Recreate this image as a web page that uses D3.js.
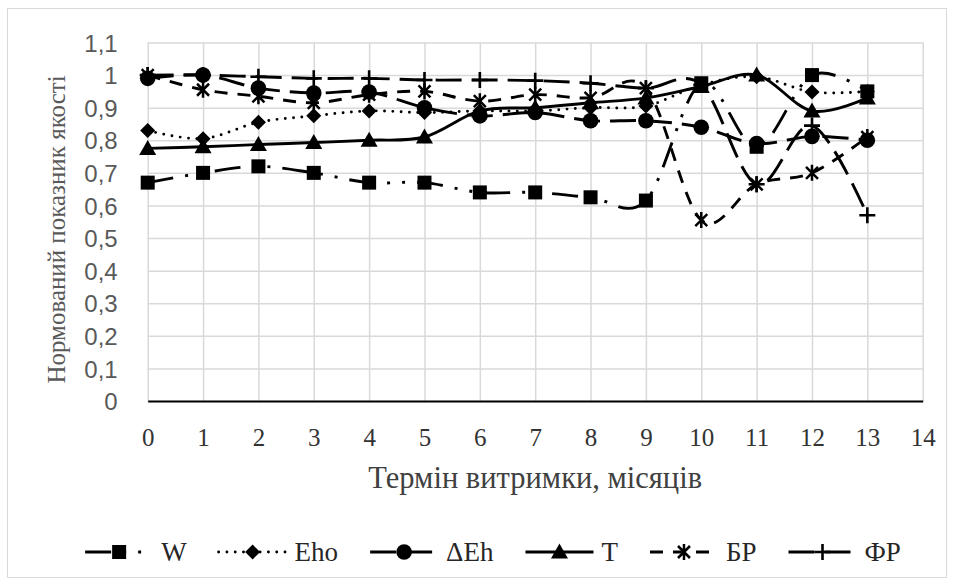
<!DOCTYPE html>
<html><head><meta charset="utf-8">
<script src="https://cdn.jsdelivr.net/npm/d3@7/dist/d3.min.js"></script>
<style>
body{margin:0;background:#fff} svg{display:block}
.serif{font-family:"Liberation Serif","DejaVu Serif","Times New Roman",serif}
.ylab{font-family:"Liberation Sans Narrow","Arial Narrow","Liberation Sans",sans-serif}
</style>
</head><body>
<svg id="c" width="955" height="584"></svg>
<script>
// ---- data ----
const months = [0,1,2,3,4,5,6,7,8,9,10,11,12,13];
const xTickValues = [0,1,2,3,4,5,6,7,8,9,10,11,12,13,14];
const yTickValues = [0,0.1,0.2,0.3,0.4,0.5,0.6,0.7,0.8,0.9,1.0,1.1];
const yTickLabels = ["0","0,1","0,2","0,3","0,4","0,5","0,6","0,7","0,8","0,9","1","1,1"];
const seriesNames = ["W","Eho","ΔEh","T","БР","ФР"];
const W   = [0.67,0.70,0.72,0.70,0.67,0.67,0.64,0.64,0.625,0.615,0.975,0.78,1.0,0.95];
const Eho = [0.83,0.805,0.855,0.875,0.89,0.885,0.89,0.89,0.90,0.905,0.97,0.995,0.948,0.95];
const dEh = [0.99,1.0,0.96,0.945,0.948,0.90,0.875,0.885,0.86,0.86,0.84,0.79,0.812,0.80];
const T   = [0.775,0.78,0.787,0.793,0.80,0.81,0.89,0.90,0.915,0.93,0.965,1.0,0.89,0.93];
const BR  = [1.0,0.955,0.935,0.915,0.94,0.95,0.92,0.94,0.93,0.96,0.555,0.665,0.70,0.81];
const FR  = [1.0,1.0,0.995,0.99,0.99,0.985,0.985,0.983,0.975,0.96,0.97,0.665,0.845,0.57];
const xTitle = "Термін витримки, місяців";
const yTitle = "Нормований показник якості";

// ---- styles ----
const seriesValues = [W,Eho,dEh,T,BR,FR];
const styles = [
  {dash:"26,12,3,12,3,12", cap:"butt", marker:"square"},
  {dash:"0,8.3", cap:"round", marker:"diamond"},
  {dash:"26,10", cap:"butt", marker:"circle"},
  {dash:null, cap:"butt", marker:"triangle"},
  {dash:"13,10", cap:"butt", marker:"star"},
  {dash:"26,10", cap:"butt", marker:"plus"}
];

const svg = d3.select("#c");
const x = d3.scaleLinear().domain([0,14]).range([147.7,922.7]);
const y = d3.scaleLinear().domain([0,1.1]).range([401,42.5]);

svg.append("rect").attr("x",7.5).attr("y",8.5).attr("width",939).attr("height",569)
  .attr("fill","#fff").attr("stroke","#d9d9d9").attr("stroke-width",1);

// gridlines
const gx = svg.append("g").attr("transform",`translate(0,${y(0)})`)
  .call(d3.axisBottom(x).tickValues(xTickValues).tickSize(-(y(0)-y(1.1))).tickFormat(""));
gx.select(".domain").remove();
gx.selectAll("line").attr("stroke","#d9d9d9").attr("stroke-width",1.5);
const gy = svg.append("g").attr("transform",`translate(${x(0)},0)`)
  .call(d3.axisLeft(y).tickValues(yTickValues).tickSize(-(x(14)-x(0))).tickFormat(""));
gy.select(".domain").remove();
gy.selectAll("line").attr("stroke","#d9d9d9").attr("stroke-width",1.5);

// y labels
const ya = svg.append("g").attr("transform",`translate(${x(0)},0)`)
  .call(d3.axisLeft(y).tickValues(yTickValues).tickSize(0).tickPadding(30).tickFormat((d,i)=>yTickLabels[i]));
ya.attr("font-family",null).attr("font-size",null);
ya.select(".domain").remove();
ya.selectAll("text").attr("class","ylab").style("font-size","24px").attr("fill","#595959").attr("dy","0.36em");

// x axis
const xa = svg.append("g").attr("transform",`translate(0,${y(0)})`)
  .call(d3.axisBottom(x).tickValues(xTickValues).tickSize(0).tickSizeOuter(0).tickPadding(27));
xa.attr("font-family",null).attr("font-size",null);
xa.select(".domain").attr("stroke","#000").attr("stroke-width",2);
xa.selectAll("text").attr("class","serif").style("font-size","25px").attr("fill","#333");

// titles
svg.append("text").attr("class","serif").attr("x",(x(0)+x(14))/2).attr("y",488).attr("text-anchor","middle")
  .style("font-size","30.5px").attr("fill","#404040").text(xTitle);
svg.append("text").attr("class","serif").attr("transform",`translate(65,229.5) rotate(-90)`).attr("text-anchor","middle")
  .style("font-size","25px").attr("fill","#595959").text(yTitle);

// markers
function drawMarker(g, type, cx, cy){
  const m = g.append("g").attr("transform",`translate(${cx},${cy})`);
  if(type==="square") m.append("rect").attr("x",-7).attr("y",-7).attr("width",14).attr("height",14).attr("fill","#000");
  else if(type==="diamond") m.append("path").attr("d","M0,-7.5L7.5,0L0,7.5L-7.5,0Z").attr("fill","#000");
  else if(type==="circle") m.append("circle").attr("r",7.8).attr("fill","#000");
  else if(type==="triangle") m.append("path").attr("d","M0,-8.5L8.5,6.5L-8.5,6.5Z").attr("fill","#000");
  else if(type==="star") m.append("path").attr("d","M-6,-6L6,6M6,-6L-6,6M0,-8V8").attr("stroke","#000").attr("stroke-width",2.5).attr("fill","none");
  else if(type==="plus") m.append("path").attr("d","M-8,0H8M0,-8V8").attr("stroke","#000").attr("stroke-width",2.6).attr("fill","none");
}

const line = d3.line().x((d,i)=>x(months[i])).y(d=>y(d)).curve(d3.curveCatmullRom.alpha(0));
seriesValues.forEach((vals,si)=>{
  const st = styles[si];
  const g = svg.append("g");
  const p = g.append("path").attr("d",line(vals)).attr("fill","none").attr("stroke","#000")
    .attr("stroke-width",2.9).attr("stroke-linecap",st.cap).attr("stroke-linejoin","round");
  if(st.dash) p.attr("stroke-dasharray",st.dash);
  vals.forEach((v,i)=>drawMarker(g, st.marker, x(months[i]), y(v)));
});

// legend
const lg = svg.append("g");
const sampleLen = 68, gapText = 8, spacing = 32, ly = 552;
const items = [];
seriesNames.forEach((name,si)=>{
  const st = styles[si];
  const g = lg.append("g");
  const p = g.append("line").attr("x1",0).attr("x2",sampleLen).attr("y1",0).attr("y2",0)
    .attr("stroke","#000").attr("stroke-width",2.9).attr("stroke-linecap",st.cap);
  if(st.dash) p.attr("stroke-dasharray",st.dash);
  drawMarker(g, st.marker, sampleLen/2, 0);
  const t = g.append("text").attr("class","serif").attr("x",sampleLen+gapText).attr("y",9)
    .style("font-size","27px").attr("fill","#262626").text(name);
  const w = sampleLen+gapText+t.node().getComputedTextLength();
  items.push({g,w});
});
const total = d3.sum(items,d=>d.w)+spacing*(items.length-1);
let start = 493 - total/2;
items.forEach(it=>{ it.g.attr("transform",`translate(${start},${ly})`); start += it.w+spacing; });
</script>
</body></html>
